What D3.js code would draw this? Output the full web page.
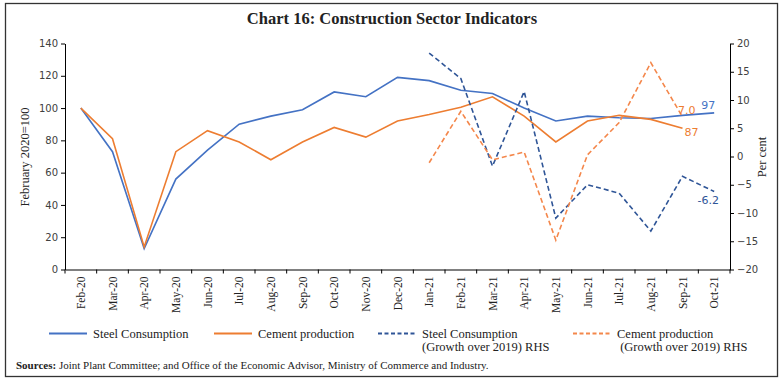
<!DOCTYPE html>
<html>
<head>
<meta charset="utf-8">
<script src="https://cdn.jsdelivr.net/npm/d3@7"></script>
<style>
  body { margin: 0; background: #fff; }
  svg { display: block; }
</style>
</head>
<body>
<svg id="chart" width="784" height="381"></svg>
<script>
const months = ['Feb-20', 'Mar-20', 'Apr-20', 'May-20', 'Jun-20', 'Jul-20', 'Aug-20', 'Sep-20',
  'Oct-20', 'Nov-20', 'Dec-20', 'Jan-21', 'Feb-21', 'Mar-21', 'Apr-21', 'May-21', 'Jun-21',
  'Jul-21', 'Aug-21', 'Sep-21', 'Oct-21'];

// index, February 2020 = 100
const steelIndex = [100, 73, 13, 56, 74, 90, 95, 99, 110, 107, 119, 117, 111, 109, 100, 92, 95, 94, 93.5, 95.5, 97];
const cementIndex = [100, 81, 14, 73, 86, 79, 68, 79, 88, 82, 92, 96, 100.5, 107, 95, 79, 92, 95.5, 93, 87.5, null];

// growth over 2019, per cent (RHS)
const steelGrowth = [null, null, null, null, null, null, null, null, null, null, null,
  18.3, 13.8, -1.7, 11.5, -10.9, -5.0, -6.5, -13.2, -3.5, -6.2];
const cementGrowth = [null, null, null, null, null, null, null, null, null, null, null,
  -1.1, 8.0, -0.6, 0.8, -14.8, 0.3, 6.0, 16.6, 7.0, null];

const leftTicks = [0, 20, 40, 60, 80, 100, 120, 140];
const rightTicks = [-20, -15, -10, -5, 0, 5, 10, 15, 20];

const C = {
  steel: '#4472C4',
  cement: '#ED7D31',
  steelG: '#2F5597',
  cementG: '#F4874B'
};

const svg = d3.select('#chart');
const plot = { left: 65, right: 730, top: 43.5, bottom: 269.5 };

const x = d3.scaleBand().domain(months).range([plot.left, plot.right]).padding(0);
const yL = d3.scaleLinear().domain([0, 140]).range([plot.bottom, plot.top]);
const yR = d3.scaleLinear().domain([-20, 20]).range([plot.bottom, plot.top]);
const cx = m => x(m) + x.bandwidth() / 2;

// frame
svg.append('rect')
  .attr('x', 5.5).attr('y', 3.5)
  .attr('width', 772).attr('height', 373)
  .attr('fill', 'none').attr('stroke', '#333').attr('stroke-width', 1.3);

// title
svg.append('text')
  .attr('x', 392).attr('y', 23.5)
  .attr('text-anchor', 'middle')
  .style('font-family', 'Liberation Serif, serif')
  .style('font-weight', 'bold')
  .style('font-size', '16.5px')
  .attr('fill', '#222')
  .text('Chart 16: Construction Sector Indicators');

// left axis
const axL = svg.append('g')
  .attr('transform', `translate(${plot.left},0)`)
  .call(d3.axisLeft(yL).tickValues(leftTicks).tickSize(4).tickSizeOuter(0));
axL.selectAll('text').style('font-family', 'DejaVu Sans, sans-serif').style('font-size', '10px').attr('fill', '#404040');

// right axis
const axR = svg.append('g')
  .attr('transform', `translate(${plot.right},0)`)
  .call(d3.axisRight(yR).tickValues(rightTicks).tickSize(4).tickSizeOuter(0));
axR.selectAll('text').style('font-family', 'DejaVu Sans, sans-serif').style('font-size', '10px').attr('fill', '#404040');

// bottom axis: labels at centres, ticks at band edges
const axB = svg.append('g')
  .attr('transform', `translate(0,${plot.bottom})`)
  .call(d3.axisBottom(x).tickSize(0).tickSizeOuter(0));
axB.selectAll('text')
  .attr('transform', 'rotate(-90)')
  .attr('x', -7).attr('y', 0).attr('dy', '0.35em')
  .attr('text-anchor', 'end')
  .style('font-family', 'Liberation Serif, serif')
  .style('font-size', '11.5px')
  .attr('fill', '#222');
axB.selectAll('.edge')
  .data(months.map(m => x(m)).concat([plot.right]))
  .enter()
  .append('line')
  .attr('class', 'edge')
  .attr('x1', d => d).attr('x2', d => d)
  .attr('y1', 0).attr('y2', 4)
  .attr('stroke', '#000');

svg.selectAll('.domain, .tick line').attr('stroke', '#000');

// axis titles
svg.append('text')
  .attr('transform', 'translate(29,157) rotate(-90)')
  .attr('text-anchor', 'middle')
  .style('font-family', 'Liberation Serif, serif')
  .style('font-size', '12.5px')
  .attr('fill', '#222')
  .text('February 2020=100');

svg.append('text')
  .attr('transform', 'translate(766,157) rotate(-90)')
  .attr('text-anchor', 'middle')
  .style('font-family', 'Liberation Serif, serif')
  .style('font-size', '12.5px')
  .attr('fill', '#222')
  .text('Per cent');

// lines
const lineL = d3.line()
  .defined(d => d.v !== null)
  .x(d => cx(d.m))
  .y(d => yL(d.v));
const lineR = d3.line()
  .defined(d => d.v !== null)
  .x(d => cx(d.m))
  .y(d => yR(d.v));

const series = [
  { vals: steelIndex, line: lineL, color: C.steel, dash: null },
  { vals: cementIndex, line: lineL, color: C.cement, dash: null },
  { vals: steelGrowth, line: lineR, color: C.steelG, dash: '5,3' },
  { vals: cementGrowth, line: lineR, color: C.cementG, dash: '5,3' }
];

series.forEach(s => {
  const data = months.map((m, i) => ({ m, v: s.vals[i] }));
  svg.append('path')
    .datum(data)
    .attr('d', s.line)
    .attr('fill', 'none')
    .attr('stroke', s.color)
    .attr('stroke-width', 1.6)
    .attr('stroke-dasharray', s.dash);
});

// end labels
const labelFont = sel => sel.style('font-family', 'DejaVu Sans, sans-serif').style('font-size', '11px');
svg.append('text').call(labelFont)
  .attr('x', cx('Oct-21') - 6).attr('y', yL(steelIndex[20]) - 3.5)
  .attr('text-anchor', 'middle').attr('fill', C.steel).text('97');
svg.append('text').call(labelFont)
  .attr('x', cx('Sep-21') + 2).attr('y', yL(cementIndex[19]) + 7.5)
  .attr('fill', C.cement).text('87');
svg.append('text').call(labelFont)
  .attr('x', cx('Sep-21') - 4.5).attr('y', yR(cementGrowth[19]) - 2.5)
  .attr('fill', C.cement).text('7.0');
svg.append('text').call(labelFont)
  .attr('x', cx('Oct-21') - 6).attr('y', yR(steelGrowth[20]) + 12.5)
  .attr('text-anchor', 'middle').attr('fill', C.steelG).text('-6.2');

// legend
const legend = [
  { x: 49, label: ['Steel Consumption'], color: C.steel, dash: null },
  { x: 214, label: ['Cement production'], color: C.cement, dash: null },
  { x: 378, label: ['Steel Consumption', '(Growth over 2019) RHS'], color: C.steelG, dash: '4,2.5' },
  { x: 573, label: ['Cement production', ' (Growth over 2019) RHS'], color: C.cementG, dash: '4,2.5' }
];
const lg = svg.append('g').attr('transform', 'translate(0,333.5)');
legend.forEach(d => {
  lg.append('line')
    .attr('x1', d.x).attr('x2', d.x + 38)
    .attr('y1', 0).attr('y2', 0)
    .attr('stroke', d.color).attr('stroke-width', 2)
    .attr('stroke-dasharray', d.dash);
  const t = lg.append('text')
    .attr('x', d.x + 44).attr('y', 4)
    .style('font-family', 'Liberation Serif, serif')
    .style('font-size', '12.5px')
    .style('white-space', 'pre')
    .attr('fill', '#222');
  d.label.forEach((l, i) => {
    t.append('tspan').attr('x', d.x + 44).attr('dy', i === 0 ? 0 : 13).text(l);
  });
});

// sources
const src = svg.append('text')
  .attr('x', 16).attr('y', 369)
  .style('font-family', 'Liberation Serif, serif')
  .style('font-size', '11px')
  .attr('fill', '#222');
src.append('tspan').style('font-weight', 'bold').text('Sources:');
src.append('tspan').text(' Joint Plant Committee; and Office of the Economic Advisor, Ministry of Commerce and Industry.');
</script>
</body>
</html>
